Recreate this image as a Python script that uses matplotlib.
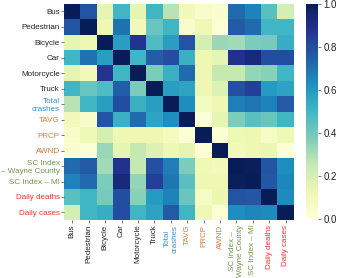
import numpy as np
import matplotlib
matplotlib.use("Agg")
import matplotlib.pyplot as plt

plt.rcParams['font.family'] = ['Liberation Sans', 'DejaVu Sans']

ylabels = ['Bus', 'Pedestrian', 'Bicycle', 'Car', 'Motorcycle', 'Truck',
           'Total\ncrashes', 'TAVG', 'PRCP', 'AWND',
           'SC Index\n– Wayne County', 'SC Index – MI',
           'Daily deaths', 'Daily cases']
xlabels = ['Bus', 'Pedestrian', 'Bicycle', 'Car', 'Motorcycle', 'Truck',
           'Total\ncrashes', 'TAVG', 'PRCP', 'AWND',
           'SC Index –\nWayne County', 'SC Index – MI',
           'Daily deaths', 'Daily cases']
label_colors = ['#222222'] * 6 + ['#3b8fd6'] + ['#dd7a3c'] * 3 + ['#6b9a48'] * 2 + ['#ff2d2d'] * 2

# correlation matrix
corr = np.array([
    [1.00, 0.78, 0.15, 0.50, 0.15, 0.50, 0.28, 0.10, 0.05, 0.03, 0.72, 0.66, 0.45, 0.21],
    [0.78, 1.00, 0.12, 0.70, 0.10, 0.42, 0.50, 0.05, 0.11, 0.02, 0.76, 0.72, 0.50, 0.50],
    [0.15, 0.12, 1.00, 0.58, 0.88, 0.47, 0.58, 0.78, 0.21, 0.33, 0.32, 0.38, 0.39, 0.53],
    [0.50, 0.70, 0.58, 1.00, 0.50, 0.75, 0.80, 0.52, 0.12, 0.15, 0.89, 0.93, 0.80, 0.80],
    [0.15, 0.10, 0.88, 0.50, 1.00, 0.38, 0.52, 0.72, 0.12, 0.25, 0.25, 0.34, 0.36, 0.50],
    [0.50, 0.42, 0.47, 0.75, 0.38, 1.00, 0.58, 0.56, 0.12, 0.18, 0.79, 0.84, 0.59, 0.57],
    [0.28, 0.50, 0.58, 0.80, 0.52, 0.58, 1.00, 0.63, 0.08, 0.12, 0.67, 0.69, 0.66, 0.76],
    [0.10, 0.05, 0.78, 0.52, 0.72, 0.56, 0.63, 1.00, 0.02, 0.15, 0.38, 0.45, 0.42, 0.50],
    [0.05, 0.11, 0.21, 0.12, 0.12, 0.12, 0.08, 0.02, 1.00, 0.02, 0.11, 0.12, 0.07, 0.11],
    [0.03, 0.02, 0.33, 0.15, 0.25, 0.18, 0.12, 0.15, 0.02, 1.00, 0.10, 0.12, 0.13, 0.02],
    [0.72, 0.76, 0.32, 0.89, 0.25, 0.79, 0.67, 0.38, 0.11, 0.10, 1.00, 0.99, 0.78, 0.63],
    [0.66, 0.72, 0.38, 0.93, 0.34, 0.84, 0.69, 0.45, 0.12, 0.12, 0.99, 1.00, 0.77, 0.65],
    [0.45, 0.50, 0.39, 0.80, 0.36, 0.59, 0.66, 0.42, 0.07, 0.13, 0.78, 0.77, 1.00, 0.64],
    [0.21, 0.50, 0.53, 0.80, 0.50, 0.57, 0.76, 0.50, 0.11, 0.02, 0.63, 0.65, 0.64, 1.00],
])

fig = plt.figure(figsize=(3.39, 2.78), dpi=100)
ax = fig.add_axes([0.189, 0.208, 0.678, 0.779])
cax = fig.add_axes([0.903, 0.211, 0.034, 0.776])

n = len(ylabels)
mesh = ax.pcolormesh(np.arange(n + 1), np.arange(n + 1), corr,
                     cmap='YlGnBu', vmin=0, vmax=1)
ax.set_xlim(0, n)
ax.set_ylim(n, 0)
for s in ax.spines.values():
    s.set_visible(False)

ax.set_xticks(np.arange(n) + 0.5)
ax.set_yticks(np.arange(n) + 0.5)
ax.set_xticklabels(xlabels, rotation=90, fontsize=5.8)
ax.set_yticklabels(ylabels, fontsize=5.8, ha='right')
ax.tick_params(length=2, width=0.5, pad=1.2, colors='#444444')
for t, c in zip(ax.get_xticklabels(), label_colors):
    t.set_color(c)
    t.set_multialignment('center')
for t, c in zip(ax.get_yticklabels(), label_colors):
    t.set_color(c)
    t.set_multialignment('right')

cb = fig.colorbar(mesh, cax=cax)
cb.outline.set_visible(False)
cb.set_ticks([0.0, 0.2, 0.4, 0.6, 0.8, 1.0])
cb.ax.tick_params(labelsize=7, length=2, width=0.5, pad=2, colors='#444444')
for t in cb.ax.get_yticklabels():
    t.set_color('#222222')

fig.savefig('out.png', dpi=100)
